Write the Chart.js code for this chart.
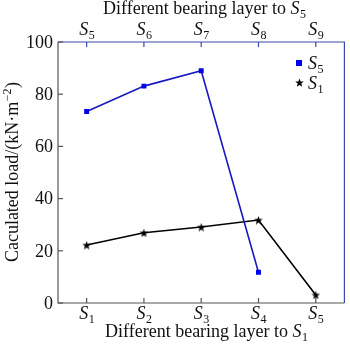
<!DOCTYPE html>
<html><head><meta charset="utf-8">
<script src="https://cdn.jsdelivr.net/npm/chart.js@4"></script>
<style>html,body{margin:0;padding:0;background:#fff}#wrap{width:350px;height:345px}</style>
</head><body><div id="wrap"><canvas id="c" width="350" height="345"></canvas></div>
<script>
const bottomLabels = ['1','2','3','4','5'];   // S1..S5
const topLabels = ['5','6','7','8','9'];      // S5..S9
const seriesS5 = [73.4, 83.1, 89.0, 11.8];
const seriesS1 = [22.2, 26.9, 29.1, 31.8, 3.1];
const yTicks = [0, 20, 40, 60, 80, 100];
const bottomTitle = 'Different bearing layer to ';
const topTitle = 'Different bearing layer to ';
const bottomTitleSub = '1';
const topTitleSub = '5';
const yTitle = 'Caculated load/(kN·m';
const FONT = '"Liberation Serif", "DejaVu Serif", serif';
const BLUE_AX = '#3a4aa8';
const GREY_AX = '#555';

function starCanvas(size, color){
  const c = document.createElement('canvas');
  c.width = size; c.height = size;
  const g = c.getContext('2d');
  g.fillStyle = color;
  g.beginPath();
  const cx = size/2, cy = size/2+0.5, R = size/2, r = R*0.42;
  for (let i=0;i<10;i++){
    const rad = (i%2===0)?R:r;
    const a = -Math.PI/2 + i*Math.PI/5;
    const x = cx + rad*Math.cos(a), y = cy + rad*Math.sin(a);
    if(i===0) g.moveTo(x,y); else g.lineTo(x,y);
  }
  g.closePath(); g.fill();
  return c;
}
const star = starCanvas(9, '#000');

function drawSubLabel(ctx, x, y, base, sub, size, align){
  ctx.save();
  const mf = 'italic ' + size + 'px ' + FONT;
  const sf = Math.round(size*0.66) + 'px ' + FONT;
  ctx.font = mf; const w1 = ctx.measureText(base).width;
  ctx.font = sf; const w2 = ctx.measureText(sub).width;
  let x0 = x;
  if (align === 'center') x0 = x - (w1+w2)/2;
  ctx.textBaseline = 'alphabetic'; ctx.textAlign = 'left';
  ctx.fillStyle = '#111';
  ctx.font = mf; ctx.fillText(base, x0, y);
  ctx.font = sf; ctx.fillText(sub, x0 + w1 + 0.5, y + size*0.22);
  ctx.restore();
  return w1 + w2;
}

const axesPlugin = {
  id: 'axesPlugin',
  afterDraw(chart){
    const ctx = chart.ctx;
    const a = chart.chartArea;
    const xs = chart.scales.x, ys = chart.scales.y;
    ctx.save();
    ctx.lineWidth = 1.2;
    // left & bottom
    ctx.strokeStyle = GREY_AX;
    ctx.beginPath();
    ctx.moveTo(a.left, a.top); ctx.lineTo(a.left, a.bottom); ctx.lineTo(a.right, a.bottom);
    ctx.stroke();
    // top & right
    ctx.strokeStyle = BLUE_AX;
    ctx.beginPath();
    ctx.moveTo(a.left, a.top); ctx.lineTo(a.right, a.top); ctx.lineTo(a.right, a.bottom);
    ctx.stroke();
    // y ticks
    ctx.strokeStyle = GREY_AX;
    ctx.fillStyle = '#111';
    ctx.font = '18px ' + FONT;
    ctx.textAlign = 'right'; ctx.textBaseline = 'middle';
    yTicks.forEach(v => {
      const py = ys.getPixelForValue(v);
      ctx.beginPath(); ctx.moveTo(a.left, py); ctx.lineTo(a.left+5, py); ctx.stroke();
      ctx.fillText(String(v), a.left-5, py+1);
    });
    // bottom ticks
    bottomLabels.forEach((s,i) => {
      const px = xs.getPixelForValue(i);
      ctx.strokeStyle = GREY_AX;
      ctx.beginPath(); ctx.moveTo(px, a.bottom); ctx.lineTo(px, a.bottom-5); ctx.stroke();
      drawSubLabel(ctx, px, a.bottom+16, 'S', s, 18, 'center');
    });
    // top ticks
    topLabels.forEach((s,i) => {
      const px = xs.getPixelForValue(i);
      ctx.strokeStyle = BLUE_AX;
      ctx.beginPath(); ctx.moveTo(px, a.top); ctx.lineTo(px, a.top+5); ctx.stroke();
      drawSubLabel(ctx, px, a.top-7, 'S', s, 18, 'center');
    });
    // titles
    ctx.font = '18px ' + FONT;
    ctx.textAlign = 'left'; ctx.textBaseline = 'alphabetic';
    ctx.fillStyle = '#111';
    const tw = ctx.measureText(bottomTitle).width;
    ctx.fillText(bottomTitle, 105, 337);
    drawSubLabel(ctx, 105+tw, 337, 'S', bottomTitleSub, 18, 'left');
    ctx.font = '18px ' + FONT;
    ctx.fillText(topTitle, 103, 14);
    drawSubLabel(ctx, 103+tw, 14, 'S', topTitleSub, 18, 'left');
    // y title rotated
    ctx.save();
    ctx.translate(18, 172);
    ctx.rotate(-Math.PI/2);
    ctx.font = '18px ' + FONT;
    const yw = ctx.measureText(yTitle).width;
    ctx.font = '12px ' + FONT;
    const supW = ctx.measureText('−2').width;
    ctx.font = '18px ' + FONT;
    const pw = ctx.measureText(')').width;
    const total = yw + supW + pw + 1;
    let x0 = -total/2;
    ctx.textAlign = 'left';
    ctx.fillText(yTitle, x0, 0);
    ctx.font = '12px ' + FONT;
    ctx.fillText('−2', x0+yw+0.5, -7);
    ctx.font = '18px ' + FONT;
    ctx.fillText(')', x0+yw+supW+1, 0);
    ctx.restore();
    // legend
    ctx.fillStyle = '#0000ee';
    ctx.fillRect(296, 60, 6, 6);
    drawSubLabel(ctx, 308, 69, 'S', '5', 18, 'left');
    ctx.drawImage(star, 295, 78, 9, 9);
    drawSubLabel(ctx, 308, 89, 'S', '1', 18, 'left');
    ctx.restore();
  }
};

new Chart(document.getElementById('c'), {
  type: 'line',
  data: {
    labels: bottomLabels.map(s => 'S' + s),
    datasets: [
      { label: 'S5', data: seriesS5, borderColor: '#1818c0', backgroundColor: '#0000ee',
        borderWidth: 1.6, pointStyle: 'rect', pointRadius: 3.5, pointBorderWidth: 0, tension: 0 },
      { label: 'S1', data: seriesS1, borderColor: '#000', backgroundColor: '#000',
        borderWidth: 1.6, pointStyle: star, tension: 0 }
    ]
  },
  options: {
    responsive: false, animation: false,
    layout: { padding: { left: 58, right: 2, top: 42, bottom: 42 } },
    plugins: { legend: { display: false }, tooltip: { enabled: false } },
    scales: {
      x: { type: 'category', display: false, offset: true },
      y: { display: false, min: 0, max: 100 }
    }
  },
  plugins: [axesPlugin]
});
</script></body></html>
